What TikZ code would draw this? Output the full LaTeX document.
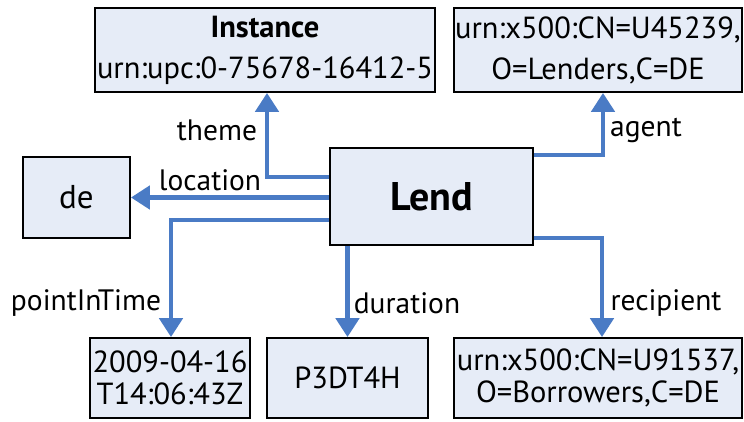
\documentclass[tikz,border=0pt]{standalone}
\usepackage{fontspec}
\setmainfont{PT Sans}
\usetikzlibrary{arrows.meta,calc}
\definecolor{linkblue}{HTML}{4A7BC5}
\definecolor{boxfill}{HTML}{E6ECF7}
\tikzset{
  databox/.style={draw=black, line width=1.8pt, fill=boxfill, inner sep=0pt,
    align=center, font=\fontsize{30.5}{41}\selectfont},
  lowbox/.style={databox, font=\fontsize{30.5}{32}\selectfont},
  link/.style={draw=linkblue, line width=4.8pt,
    -{Triangle[length=19pt,width=23pt]}},
  lbl/.style={inner sep=0pt, font=\fontsize{29.5}{32}\selectfont}
}
\begin{document}
\begin{tikzpicture}[x=1pt,y=-1pt]
  \useasboundingbox (0,0) rectangle (744,421);

  % entity boxes
  \node[databox, minimum width=340pt, minimum height=84pt] (inst) at (265,50)
    {\textbf{Instance}\\urn:upc:0-75678-16412-5};
  \node[databox, minimum width=288pt, minimum height=84pt] (agent) at (598,50)
    {urn:x500:CN=U45239,\\O=Lenders,C=DE};
  \node[databox, minimum width=107pt, minimum height=81pt,
        font=\fontsize{33}{40}\selectfont] (de) at (76.5,197.5) {de};
  \node[databox, minimum width=203pt, minimum height=97pt,
        font=\fontsize{40}{46}\selectfont\bfseries] (lend) at (431.5,196.5) {Lend};
  \node[lowbox, minimum width=160pt, minimum height=80pt] (time) at (170,378)
    {2009-04-16\\T14:06:43Z};
  \node[lowbox, minimum width=161pt, minimum height=80pt] (dur) at (347.5,378)
    {P3DT4H};
  \node[lowbox, minimum width=288pt, minimum height=80pt] (recip) at (598,378)
    {urn:x500:CN=U91537,\\O=Borrowers,C=DE};

  % relations
  \draw[link] ([yshift=19.5pt]lend.west) -| ([xshift=2pt]inst.south);
  \draw[link] (lend.west |- de.east) -- (de.east);
  \draw[link] ([yshift=-23.5pt]lend.west) -| ([xshift=1pt]time.north);
  \draw[link] (dur.north |- lend.south) -- (dur.north);
  \draw[link] ([yshift=41.5pt]lend.east) -| ([xshift=5pt]agent.south);
  \draw[link] ([yshift=-41.5pt]lend.east) -| ([xshift=4pt]recip.north);

  % relation labels
  \node[lbl] (ltheme) at (217,130) {theme};
  \node[lbl] (lloc) at (210,180) {location};
  \node[lbl] (lagent) at (646,130) {agent};
  \node[lbl] (ltime) at (86,303) {pointInTime};
  \node[lbl] (ldur) at (407,303) {duration};
  \node[lbl] (lrecip) at (666,303) {recipient};
\end{tikzpicture}
\end{document}
